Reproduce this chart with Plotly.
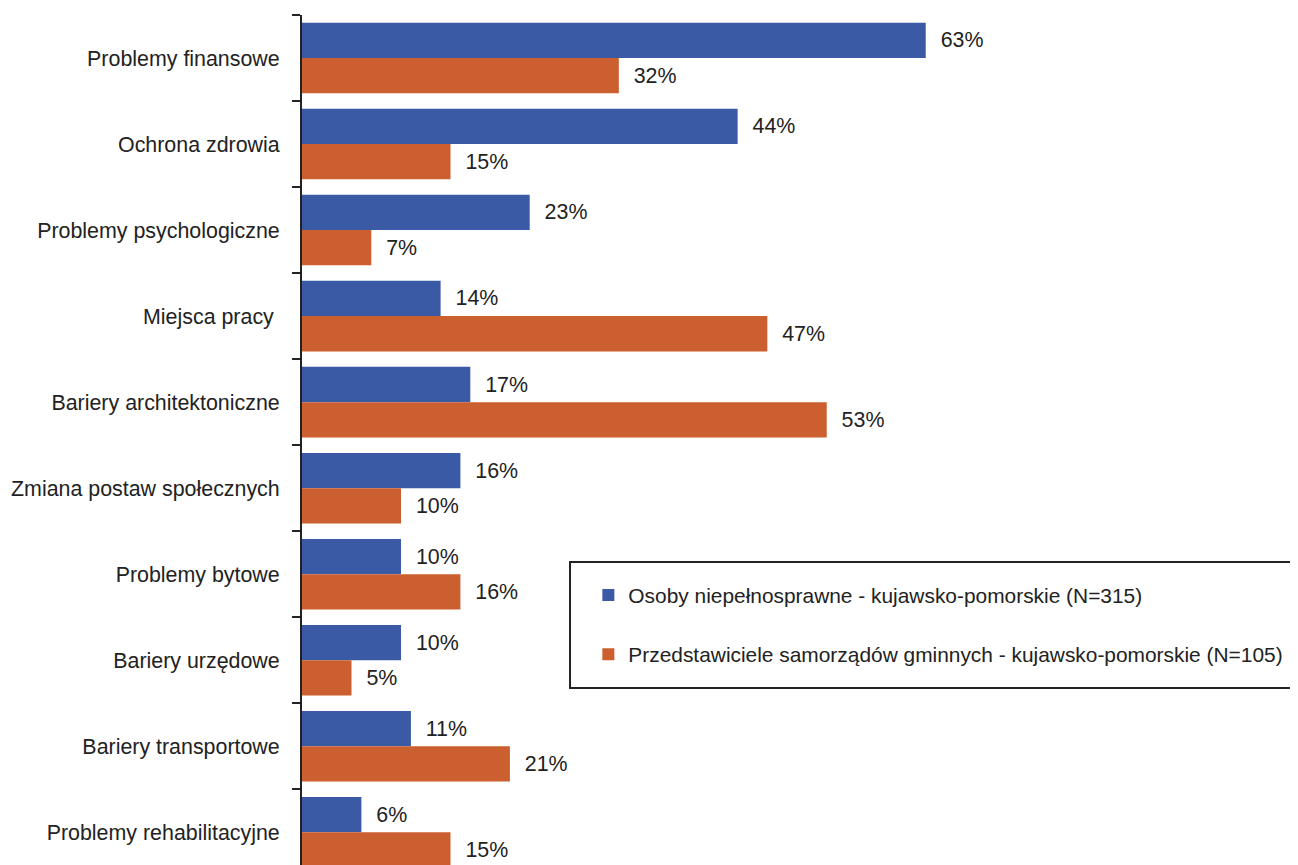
import plotly.graph_objects as go

categories = [
    "Problemy finansowe",
    "Ochrona zdrowia",
    "Problemy psychologiczne",
    "Miejsca pracy ",
    "Bariery architektoniczne",
    "Zmiana postaw społecznych",
    "Problemy bytowe",
    "Bariery urzędowe",
    "Bariery transportowe",
    "Problemy rehabilitacyjne",
]
osoby = [63, 44, 23, 14, 17, 16, 10, 10, 11, 6]
samorzady = [32, 15, 7, 47, 53, 10, 16, 5, 21, 15]

series_names = [
    "Osoby niepełnosprawne - kujawsko-pomorskie (N=315)",
    "Przedstawiciele samorządów gminnych - kujawsko-pomorskie (N=105)",
]
colors = ["#3B5AA6", "#CC5F2F"]

FONT = "Liberation Sans, Arial, sans-serif"
FS = 21.4

fig = go.Figure()
for name, vals, col, grp in zip(series_names, [osoby, samorzady], colors, ["a", "b"]):
    fig.add_trace(go.Bar(
        y=categories, x=vals, orientation="h", name=name,
        marker=dict(color=col, line=dict(width=0)),
        text=[f"\u00a0\u00a0{v}%" for v in vals],
        textposition="outside", constraintext="none", cliponaxis=False,
        textfont=dict(family=FONT, size=FS, color="#222222"),
        legendgroup=grp, hoverinfo="skip",
    ))

fig.update_layout(
    width=1290, height=857,
    margin=dict(l=294, r=0, t=7, b=0, autoexpand=False),
    paper_bgcolor="white", plot_bgcolor="white",
    barmode="group", bargap=0.18, bargroupgap=0,
    font=dict(family=FONT, size=FS, color="#222222"),
    xaxis=dict(range=[0, 100.6], visible=False, fixedrange=True, automargin=False),
    yaxis=dict(
        type="category", range=[9.38, -0.5], automargin=False,
        showline=True, linecolor="#222222", linewidth=2,
        ticks="outside", tickson="boundaries", ticklen=8, tickwidth=2, tickcolor="#222222",
        ticklabelstandoff=16, showgrid=False, zeroline=False,
        tickfont=dict(family=FONT, size=FS, color="#222222"),
    ),
    showlegend=True,
    legend=dict(
        x=0.2875, y=0.3412, xanchor="left", yanchor="top",
        borderwidth=0, bgcolor="rgba(0,0,0,0)",
        traceorder="grouped", tracegroupgap=29,
        font=dict(family=FONT, size=20.9, color="#222222"),
    ),
    shapes=[dict(
        type="rect", xref="paper", yref="paper",
        x0=0.2691, x1=1.01, y0=0.2082, y1=0.3565,
        line=dict(color="#222222", width=2), fillcolor="white", layer="below",
    )],
)

fig.write_html("out.html")
